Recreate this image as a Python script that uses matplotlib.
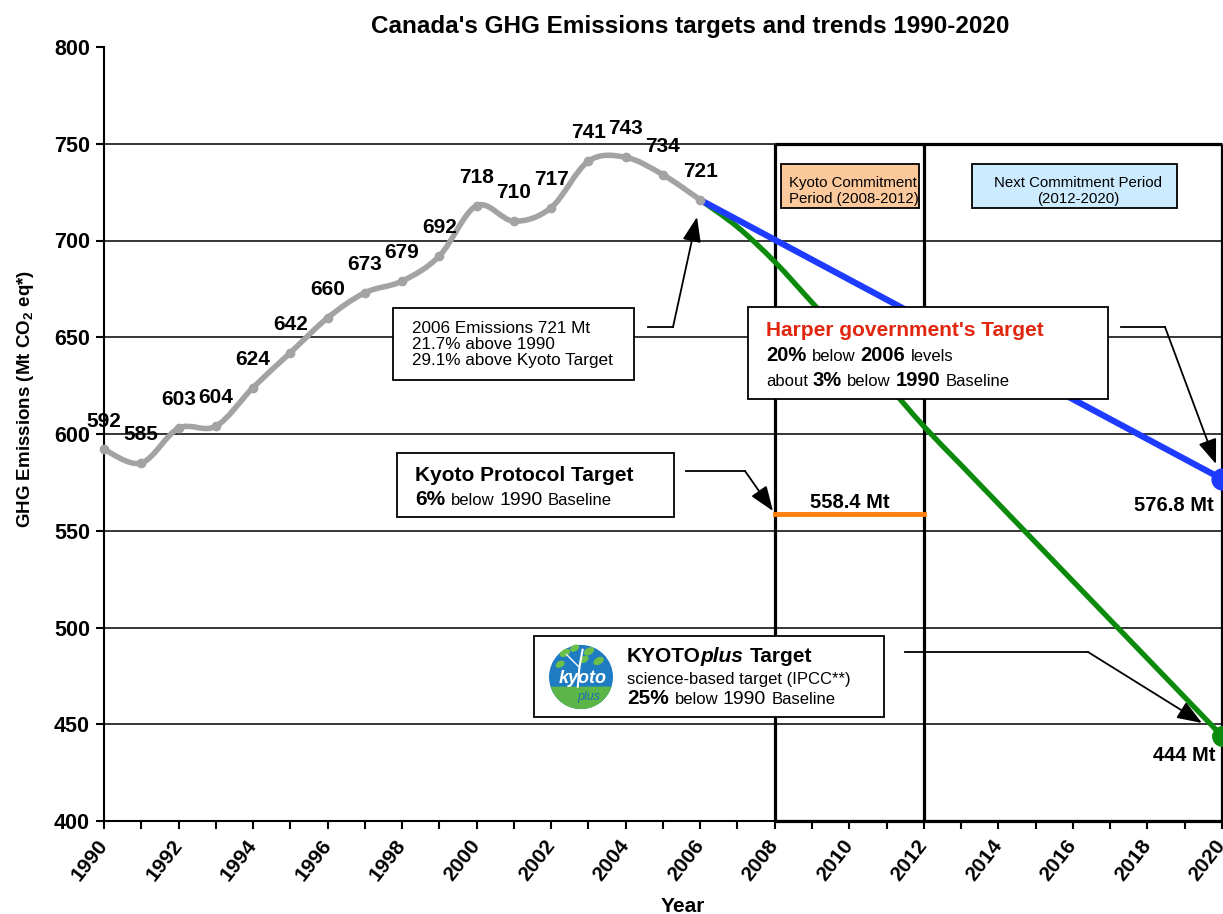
import numpy as np
import matplotlib
matplotlib.use("Agg")
import matplotlib.pyplot as plt
import matplotlib.patches as patches
from matplotlib.path import Path
from matplotlib.lines import Line2D
from matplotlib.transforms import Affine2D

plt.rcParams['font.family'] = ['Liberation Sans', 'DejaVu Sans']
plt.rcParams['mathtext.fontset'] = 'custom'
plt.rcParams['mathtext.rm'] = 'Liberation Sans'
plt.rcParams['mathtext.bf'] = 'Liberation Sans:bold'

W, H = 1223, 914

# historical emissions (Mt CO2 eq)
years = list(range(1990, 2007))
emissions = [592, 585, 603, 604, 624, 642, 660, 673, 679, 692, 718, 710, 717, 741, 743, 734, 721]

# Harper government's target path
harper_years = [2006, 2020]
harper_values = [721, 576.8]

# KYOTOplus target path
plus_years = list(range(2006, 2021))
plus_values = [721, 707, 689, 668, 647, 626, 604, 584, 564, 544, 524, 504, 484, 464, 444]

# Kyoto protocol target
kyoto_years = [2008, 2012]
kyoto_values = [558.4, 558.4]

y_ticks = list(range(400, 801, 50))
x_labels = list(range(1990, 2021, 2))
x_minor = list(range(1990, 2021))
period_edges = [2008, 2012, 2020]

gray = '#A3A3A3'
blue = '#1E3CFF'
green = '#0B8A0B'
orange = '#FF7F0A'


def smooth_path(xs, ys):
	p = np.column_stack([xs, ys]).astype(float)
	ext = np.vstack([p[0], p, p[-1]])
	verts = [p[0]]
	codes = [Path.MOVETO]
	for i in range(len(p) - 1):
		p0, p1, p2, p3 = ext[i], ext[i + 1], ext[i + 2], ext[i + 3]
		verts += [p1 + (p2 - p0) / 6, p2 - (p3 - p1) / 6, p2]
		codes += [Path.CURVE4] * 3
	return Path(verts, codes)


fig = plt.figure(figsize=(W / 100, H / 100), dpi=100)
ax = fig.add_axes([104 / W, 93 / H, (W - 104) / W, 774 / H])
ax.set_xlim(1990, 2020.03)
ax.set_ylim(400, 800)
for s in ['top', 'right']:
	ax.spines[s].set_visible(False)
ax.spines['left'].set_linewidth(1.5)
ax.spines['bottom'].set_linewidth(1.5)

ax.set_yticks(y_ticks)
ax.set_yticklabels([str(v) for v in y_ticks], fontsize=15.5, fontweight='bold')
ax.set_xticks(x_labels)
ax.set_xticks(x_minor, minor=True)
ax.set_xticklabels([str(v) for v in x_labels], rotation=52, ha='right', va='center',
	rotation_mode='anchor', fontsize=15, fontweight='bold')
ax.tick_params(axis='both', which='both', direction='out', length=6, width=1.5)
ax.tick_params(axis='y', pad=4)
ax.tick_params(axis='x', pad=9)

ax.set_ylabel(r'GHG Emissions (Mt CO$_\mathbf{2}$ eq*)', fontsize=13.5, fontweight='bold')
ax.yaxis.set_label_coords(-0.061, 0.545)
ax.set_xlabel('Year', fontsize=15, fontweight='bold')
ax.xaxis.set_label_coords(0.517, -0.098)

fig.text(690 / W, 1 - 33 / H, "Canada's GHG Emissions targets and trends 1990-2020",
	ha='center', va='baseline', fontsize=17.5, fontweight='bold')

# grid and commitment period frame
ax.hlines(y_ticks[1:-1], 1990, 2020, color='black', lw=1.1, zorder=1)
ax.vlines(period_edges, 400, 750, color='black', lw=2.3, zorder=2, clip_on=False)
ax.hlines([400, 750], 2008, 2020, color='black', lw=2.3, zorder=2, clip_on=False)

# target paths
ax.add_patch(patches.PathPatch(smooth_path(plus_years, plus_values), fill=False,
	ec=green, lw=3.8, zorder=3))
ax.plot(plus_years[-1:], plus_values[-1:], 'o', ms=14, color=green, zorder=3, clip_on=False)
ax.plot(harper_years, harper_values, color=blue, lw=4.5, zorder=4, solid_capstyle='round')
ax.plot(harper_years[-1:], harper_values[-1:], 'o', ms=15, color=blue, zorder=4, clip_on=False)
ax.plot(kyoto_years, kyoto_values, color=orange, lw=3.5, zorder=4)

# historical emissions
ax.add_patch(patches.PathPatch(smooth_path(years, emissions), fill=False,
	ec=gray, lw=4, zorder=5, capstyle='round'))
ax.plot(years, emissions, 'o', ms=6, color=gray, zorder=5, clip_on=False)
for yr, v in zip(years, emissions):
	ax.annotate(str(v), (yr, v), xytext=(0, 16.5), textcoords='offset points',
		ha='center', va='baseline', fontsize=15, fontweight='bold', zorder=6)

ax.annotate('%.1f Mt' % kyoto_values[0], (np.mean(kyoto_years), kyoto_values[0]),
	xytext=(0, 5), textcoords='offset points', ha='center', va='baseline',
	fontsize=14.5, fontweight='bold')
ax.annotate('%.1f Mt' % harper_values[-1], (harper_years[-1], harper_values[-1]),
	xytext=(-6, -12), textcoords='offset points', ha='right', va='top',
	fontsize=14.5, fontweight='bold')
ax.annotate('%d Mt' % plus_values[-1], (plus_years[-1], plus_values[-1]),
	xytext=(-5, -7), textcoords='offset points', ha='right', va='top',
	fontsize=14.5, fontweight='bold')

# annotation boxes, placed in figure pixels from the top-left corner
T = Affine2D().scale(1, -1).translate(0, H)
renderer = fig.canvas.get_renderer()


def box(x0, y0, x1, y1, fc='white'):
	fig.add_artist(patches.Rectangle((x0, y0), x1 - x0, y1 - y0, transform=T,
		fc=fc, ec='black', lw=1.3, zorder=5))


def rich_line(x, y, pieces):
	cx = x
	for text, size, weight, style, color in pieces:
		t = fig.text(cx, y, text.strip(), transform=T, fontsize=size, fontweight=weight,
			style=style, color=color, va='baseline', ha='left', zorder=7)
		cx += t.get_window_extent(renderer).width
		if text.endswith(' '):
			cx += 0.278 * size * 100 / 72


def arrow(pts):
	xs = [p[0] for p in pts[:-1]]
	ys = [p[1] for p in pts[:-1]]
	fig.add_artist(Line2D(xs, ys, transform=T, color='black', lw=1.3, zorder=6))
	fig.add_artist(patches.FancyArrowPatch(pts[-2], pts[-1], transform=T,
		arrowstyle='-|>,head_length=0.8,head_width=0.3', mutation_scale=19,
		color='black', lw=1.3, shrinkA=0, shrinkB=0, zorder=6))


K = 'black'
B = 'bold'
N = 'normal'
RED = '#E0260F'

# 2006 emissions
box(393, 308, 634, 380)
rich_line(412, 333, [('2006 Emissions 721 Mt', 12.3, N, N, K)])
rich_line(412, 349, [('21.7% above 1990', 12.3, N, N, K)])
rich_line(412, 365, [('29.1% above Kyoto Target', 12.3, N, N, K)])
arrow([(648, 327), (673, 327), (697, 217)])

# Harper target
box(748, 307, 1108, 399)
rich_line(766, 336, [("Harper government's Target", 15, B, N, RED)])
rich_line(766, 361, [('20% ', 14.5, B, N, K), ('below ', 12, N, N, K),
	('2006 ', 14.5, B, N, K), ('levels', 12, N, N, K)])
rich_line(766, 386, [('about ', 12, N, N, K), ('3% ', 14.5, B, N, K), ('below ', 12, N, N, K),
	('1990 ', 14.5, B, N, K), ('Baseline', 12, N, N, K)])
arrow([(1121, 327), (1165, 327), (1216, 464)])

# Kyoto protocol target
box(397, 453, 674, 517)
rich_line(415, 481, [('Kyoto Protocol Target', 15, B, N, K)])
rich_line(415, 505, [('6% ', 15, B, N, K), ('below ', 12, N, N, K),
	('1990 ', 14, N, N, K), ('Baseline', 12, N, N, K)])
arrow([(686, 471), (745, 471), (773, 511)])

# KYOTOplus target
box(534, 636, 884, 717)
rich_line(627, 662, [('KYOTO', 15, B, N, K), ('plus ', 15, B, 'italic', K), ('Target', 15, B, N, K)])
rich_line(627, 684, [('science-based target (IPCC**)', 12, N, N, K)])
rich_line(627, 704, [('25% ', 15, B, N, K), ('below ', 12, N, N, K),
	('1990 ', 14, N, N, K), ('Baseline', 12, N, N, K)])
arrow([(905, 652), (1088, 652), (1202, 723)])

# commitment periods
box(781, 164, 919, 208, fc='#FBC99B')
rich_line(789, 187, [('Kyoto Commitment', 10.8, N, N, K)])
rich_line(789, 203, [('Period (2008-2012)', 10.8, N, N, K)])
box(972, 164, 1177, 208, fc='#CDEBFF')
fig.text(1078, 187, 'Next Commitment Period', transform=T, ha='center', va='baseline',
	fontsize=10.8, zorder=7)
fig.text(1078, 203, '(2012-2020)', transform=T, ha='center', va='baseline',
	fontsize=10.8, zorder=7)

# KYOTOplus logo
lx = fig.add_axes([549 / W, 1 - 711 / H, 64 / W, 68 / H], zorder=8)
lx.set_xlim(-1, 1)
lx.set_ylim(-1.06, 1.06)
lx.axis('off')
lx.add_patch(patches.Circle((0, 0), 1, fc='#1F7CC2', ec='none'))
a = np.arcsin(0.3)
th = np.linspace(np.pi + a, 2 * np.pi - a, 40)
lx.add_patch(patches.Polygon(np.column_stack([np.cos(th), np.sin(th)]), fc='#5CB547', ec='none'))
lx.plot([-0.1, -0.05, 0.05], [-0.3, 0.3, 0.85], color='white', lw=1.5)
lx.plot([-0.05, -0.45], [0.3, 0.7], color='white', lw=1)
for cx, cy, w, h in [(-0.5, 0.75, 0.35, 0.22), (-0.2, 0.9, 0.3, 0.2), (0.25, 0.8, 0.35, 0.22),
		(0.55, 0.5, 0.35, 0.22), (-0.65, 0.4, 0.3, 0.2), (0.1, 0.55, 0.3, 0.2)]:
	lx.add_patch(patches.Ellipse((cx, cy), w, h, angle=30, fc='#6CC04A', ec='none'))
lx.text(0.05, -0.05, 'kyoto', color='white', fontsize=13, fontweight='bold',
	style='italic', ha='center', va='center')
lx.text(0.25, -0.62, 'plus', color='#1F6FB0', fontsize=9, style='italic',
	ha='center', va='center')

fig.savefig('out.png', dpi=100, facecolor='white')
